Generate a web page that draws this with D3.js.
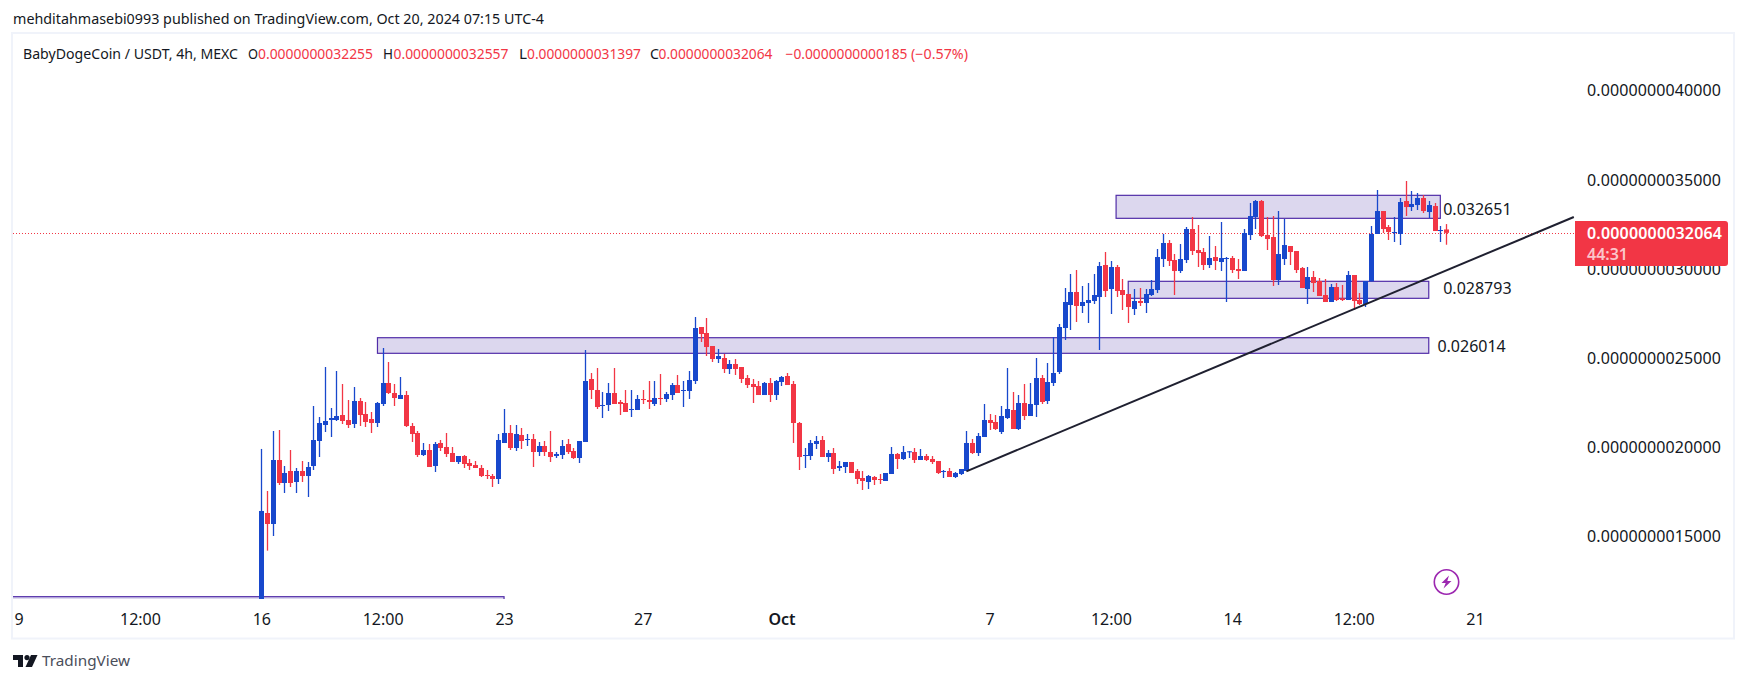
<!DOCTYPE html>
<html>
<head>
<meta charset="utf-8">
<script src="https://cdn.jsdelivr.net/npm/d3@7"></script>
<style>
  body { margin: 0; background: #fff; }
  text { font-family: "Noto Sans", sans-serif; fill: #131722; }
</style>
</head>
<body>
<div id="chart"></div>
<script>
// 4h bars from Sep 16 2024, prices are in units of 1e-13
var opens = [11400,16347,15730,19320,18030,18703,18086,18703,18422,18983,20386,21284,21564,21564,21844,21564,21340,22630,21901,21620,
  21396,22462,23640,23079,22742,22967,21227,20835,19600,19881,18983,20274,20049,19713,19208,19544,19152,19040,18871,18478,
  18422,18254,20274,20835,19993,20723,20442,20498,19769,20105,19769,19544,19600,20218,19825,19432,20330,23864,23247,22350,
  22405,23079,22574,22518,22125,22125,22742,22686,22462,22798,22742,22966,23527,23210,23191,23752,26781,26445,25715,24986,
  25042,24425,24706,24537,23920,23584,23471,22966,23640,22966,23696,24032,23584,21396,19544,19544,20218,20442,19488,19713,
  18871,18927,19208,18703,18310,18086,18366,18254,18142,18535,19657,19376,19750,19769,19320,19544,19376,19264,18646,18703,
  18366,18535,18703,20274,19713,20610,21564,21452,20891,21676,22125,21059,22518,21788,22406,23920,22630,23640,24257,26725,
  28016,28745,27960,28128,28240,28464,30260,28913,30147,28857,28633,27791,28240,28128,28577,28857,30596,31494,30540,29923,
  30540,32279,31101,30989,30260,30708,30428,30596,30652,30035,29923,31942,32952,33850,31942,31830,29418,30596,31325,31045,
  30091,28913,29586,29362,28577,28184,29025,28390,28296,29699,28296,28072,29343,32000,33289,32391,32055,32000,33850,33513,
  33625,34018,33233,33569,32167,32255];
var highs = [19940,17581,20947,21003,18983,19881,18871,19264,19208,22350,21732,24537,22237,24313,23584,22686,23415,22798,22574,22013,
  22574,25603,24818,23584,23976,23191,21396,20947,20274,20218,20330,20442,20835,20049,19544,19600,19376,19264,19040,18759,
  18535,20778,22181,21284,21284,21115,20778,20778,20330,20386,20947,19769,20442,20498,19993,20386,25491,24201,24481,23135,
  23640,24481,22686,23247,23247,22966,23247,23752,23752,24145,23135,23640,24088,23752,24313,27342,26781,27286,25715,25547,
  25267,24930,24986,24537,24088,23864,23752,23696,23920,23808,24032,24201,23752,21452,19993,20442,20666,20666,19881,19993,
  19264,19208,19208,18815,18703,18478,18422,18535,18591,20049,19713,20105,19825,19993,19937,19657,19544,19264,18759,18871,
  18646,18815,20947,20498,20835,22462,21901,21845,22349,24481,23135,22966,23584,23640,25042,24088,24762,26220,26950,28969,
  29755,29979,29081,29250,29755,30428,30989,30484,30260,29474,28633,28913,28969,28913,29418,31157,32009,31662,30877,31438,
  32391,32952,32504,31213,31886,31325,32672,30708,30764,30596,32279,33738,33906,33906,32952,33008,33289,32840,31325,31045,
  30147,30147,29923,29530,29474,29194,29250,29138,29923,29699,28689,29362,32447,34467,33289,32504,32952,34018,34972,34411,
  34299,34186,33850,33738,32447,32557];
var lows = [11400,14234,15056,17917,17469,17805,17469,18086,17244,18759,19488,20891,20610,21508,21340,21115,21115,21227,21171,20835,
  21171,22350,23023,22350,22742,21171,20330,19488,19544,18927,18647,19825,19488,19208,19096,18871,18759,18871,18366,18254,
  17805,17974,20274,19881,19825,19937,20105,18927,19544,19544,19208,19432,19376,19657,19376,19152,20330,22742,22181,21676,
  22069,22462,21844,22013,21732,22125,22462,22181,22349,22406,22574,22686,23079,22293,22742,23584,25940,25154,24818,24762,
  24201,24145,24088,23640,23359,22518,22966,22966,22574,22686,23471,23527,20274,18759,18871,19320,19937,19488,19208,18535,
  18703,18591,18591,17974,17637,17693,17917,17974,18142,18535,18815,19320,19432,19152,19320,19264,19096,18535,18310,18366,
  18310,18478,18703,19657,19544,20610,21003,21003,20779,21620,21059,21003,21564,21788,21732,22462,22462,23471,24145,26052,
  26613,27062,27567,27006,28072,25491,28464,27511,28464,27735,27006,27455,27960,27567,28520,28689,30147,30203,28577,29811,
  30372,30820,30147,29979,30091,29979,29923,28184,29811,29474,29923,31662,32279,31830,31101,29081,29138,30260,30260,29811,
  28969,28072,28745,28520,28184,28184,28240,28240,28296,27735,28016,27903,29343,32000,32055,31662,31550,31381,33008,33289,
  33345,33177,32896,32167,31550,31397];
var closes = [16460,15730,19320,18030,18590,18030,18703,18422,18927,20442,21396,21508,21676,21788,21508,21284,22630,21844,21452,21396,
  22518,23640,23079,22798,22967,21227,20778,19600,19881,18927,20218,19993,19657,19208,19544,19096,18983,18871,18422,18422,
  18254,20442,20835,19993,20778,20386,20498,19769,20105,19769,19488,19657,20105,19769,19432,20386,23752,23247,22293,22405,
  23079,22462,22462,22013,22181,22742,22686,22574,22798,22742,23023,23527,23079,23247,23808,26725,26389,25659,24986,25154,
  24425,24706,24425,23864,23527,23415,22966,23640,22966,23752,23976,23527,21396,19488,19600,20274,20386,19488,19713,18815,
  18983,19208,18591,18254,18142,18422,18198,18198,18591,19657,19376,19769,19806,19320,19544,19320,19208,18591,18703,18366,
  18591,18815,20274,19713,20666,21564,21396,21059,21788,22181,21059,22518,21788,22462,23920,22574,23696,24201,26781,28184,
  28745,27960,28184,28296,28577,30203,28801,30147,28801,28577,27903,28240,28128,28633,28913,30708,31494,30484,29923,30596,
  32279,31045,30933,30260,30652,30484,30652,30652,29979,29923,32055,33008,33850,31886,31718,29418,30876,31381,30989,29979,
  28969,29586,29250,28520,28184,29025,28296,28296,29699,28240,28072,29362,32000,33289,32279,32111,32111,33794,33513,33682,
  34018,33289,33625,32167,32223,32064];

// price axis and time axis labels
var priceTicks = [15000, 20000, 25000, 30000, 35000, 40000];
var timeTicks = [
  [Date.UTC(2024, 8, 9), "9"],
  [Date.UTC(2024, 8, 12, 12), "12:00"],
  [Date.UTC(2024, 8, 16), "16"],
  [Date.UTC(2024, 8, 19, 12), "12:00"],
  [Date.UTC(2024, 8, 23), "23"],
  [Date.UTC(2024, 8, 27), "27"],
  [Date.UTC(2024, 9, 1), "Oct"],
  [Date.UTC(2024, 9, 7), "7"],
  [Date.UTC(2024, 9, 10, 12), "12:00"],
  [Date.UTC(2024, 9, 14), "14"],
  [Date.UTC(2024, 9, 17, 12), "12:00"],
  [Date.UTC(2024, 9, 21), "21"]
];

// rectangles drawn on the chart, in bar numbers and prices
var boxStart = [-60, 20.1, 147.9, 150];
var boxEnd = [42, 202, 204, 202];
var boxTop = [11651, 26181, 34169, 29345];
var boxBottom = [11000, 25306, 32879, 28391];

var levelBars = [204.5, 204.5, 203.5];
var levelPrices = [33401, 28944, 25690];
var levelTexts = ["0.032651", "0.028793", "0.026014"];

var trendBars = [122, 227.1];
var trendPrices = [18686, 32952];

var lastPrice = 32064;

var blue = "#1848cc", red = "#f23645";
var fourHours = 4 * 3600 * 1000, firstBar = Date.UTC(2024, 8, 16);
var barTime = i => firstBar + i * fourHours;

var svg = d3.select("#chart").append("svg")
  .attr("width", 1747)
  .attr("height", 683)
  .style("display", "block");

var x = d3.scaleUtc()
  .domain([firstBar, Date.UTC(2024, 9, 21)])
  .range([261.3, 1475]);
var y = d3.scaleLinear()
  .domain([15000, 40000])
  .range([537, 91.4]);

// outer frame
svg.append("rect")
  .attr("x", 12).attr("y", 33)
  .attr("width", 1722).attr("height", 605.5)
  .attr("fill", "#fff")
  .attr("stroke", "#f0f3fa")
  .attr("stroke-width", 2);

svg.append("clipPath").attr("id", "pane")
  .append("rect")
  .attr("x", 13).attr("y", 34)
  .attr("width", 1562).attr("height", 565);

var pane = svg.append("g").attr("clip-path", "url(#pane)");

// last price line
pane.append("line")
  .attr("x1", 13).attr("x2", 1575)
  .attr("y1", Math.round(y(lastPrice)) + 0.5).attr("y2", Math.round(y(lastPrice)) + 0.5)
  .attr("stroke", red)
  .attr("stroke-dasharray", "1,2");

// rectangles
pane.selectAll("rect.box")
  .data(boxStart)
  .enter()
  .append("rect")
  .attr("class", "box")
  .attr("x", d => x(barTime(d)))
  .attr("y", (d, i) => y(boxTop[i]))
  .attr("width", (d, i) => x(barTime(boxEnd[i])) - x(barTime(d)))
  .attr("height", (d, i) => y(boxBottom[i]) - y(boxTop[i]))
  .attr("fill", "#dcd7ee")
  .attr("stroke", "#512da8")
  .attr("stroke-width", 1.2);

// candles
var candles = pane.selectAll("g.candle")
  .data(opens)
  .enter()
  .append("g")
  .attr("class", "candle")
  .attr("fill", (d, i) => closes[i] >= d ? blue : red)
  .attr("stroke", (d, i) => closes[i] >= d ? blue : red);

candles.append("line")
  .attr("x1", (d, i) => Math.round(x(barTime(i))) + 0.5)
  .attr("x2", (d, i) => Math.round(x(barTime(i))) + 0.5)
  .attr("y1", (d, i) => y(highs[i]))
  .attr("y2", (d, i) => y(lows[i]))
  .attr("stroke-width", 1.3);

candles.append("rect")
  .attr("x", (d, i) => Math.round(x(barTime(i))) - 2)
  .attr("width", 5)
  .attr("y", (d, i) => y(Math.max(d, closes[i])))
  .attr("height", (d, i) => Math.max(1, Math.abs(y(d) - y(closes[i]))))
  .attr("stroke", "none");

// trend line
pane.append("line")
  .attr("x1", x(barTime(trendBars[0]))).attr("y1", y(trendPrices[0]))
  .attr("x2", x(barTime(trendBars[1]))).attr("y2", y(trendPrices[1]))
  .attr("stroke", "#1f2030")
  .attr("stroke-width", 2);

// level labels
svg.selectAll("text.level")
  .data(levelTexts)
  .enter()
  .append("text")
  .attr("class", "level")
  .attr("x", (d, i) => x(barTime(levelBars[i])))
  .attr("y", (d, i) => y(levelPrices[i]))
  .attr("dy", "0.35em")
  .attr("font-size", 16)
  .text(d => d);

// axes
var xAxis = svg.append("g")
  .attr("transform", "translate(0,600)")
  .call(d3.axisBottom(x)
    .tickValues(timeTicks.map(d => d[0]))
    .tickSize(0)
    .tickPadding(10)
    .tickFormat((d, i) => timeTicks[i][1]));
xAxis.select(".domain").remove();
xAxis.selectAll("text")
  .attr("font-size", 16)
  .attr("dy", "0.95em")
  .style("font-family", '"Noto Sans", sans-serif')
  .style("font-weight", (d, i) => timeTicks[i][1] == "Oct" ? "600" : "400");

var yAxis = svg.append("g")
  .attr("transform", "translate(1587,0)")
  .call(d3.axisRight(y)
    .tickValues(priceTicks)
    .tickSize(0)
    .tickPadding(0)
    .tickFormat(d => (d / 1e13).toFixed(13)));
yAxis.select(".domain").remove();
yAxis.selectAll("text")
  .attr("font-size", 16)
  .attr("textLength", 134)
  .attr("dy", "0.28em")
  .style("font-family", '"Noto Sans", sans-serif');

// last price tag
svg.append("path")
  .attr("d", "M1575,221H1725a3,3 0 0 1 3,3V263a3,3 0 0 1 -3,3H1575Z")
  .attr("fill", red);
svg.append("text")
  .attr("x", 1587).attr("y", 239)
  .attr("font-size", 16)
  .attr("font-weight", 600)
  .attr("textLength", 135)
  .style("fill", "#fff")
  .text((lastPrice / 1e13).toFixed(13));
svg.append("text")
  .attr("x", 1587).attr("y", 260)
  .attr("font-size", 16)
  .attr("font-weight", 600)
  .style("fill", "#fbc5ca")
  .text("44:31");

// header and legend
svg.append("text")
  .attr("x", 13).attr("y", 24)
  .attr("font-size", 14)
  .attr("textLength", 531)
  .attr("lengthAdjust", "spacingAndGlyphs")
  .text("mehditahmasebi0993 published on TradingView.com, Oct 20, 2024 07:15 UTC-4");

var legendParts = [
  ["BabyDogeCoin / USDT, 4h, MEXC", 23, 215, "#131722"],
  ["O", 248, 10, "#131722"],
  ["0.0000000032255", 258, 115, red],
  ["H", 383, 10, "#131722"],
  ["0.0000000032557", 393.5, 115, red],
  ["L", 519, 8, "#131722"],
  ["0.0000000031397", 527, 114, red],
  ["C", 650, 9, "#131722"],
  ["0.0000000032064", 658.5, 114, red],
  ["\u22120.0000000000185", 785.5, 122, red],
  ["(\u22120.57%)", 911, 57, red]
];
svg.selectAll("text.legend")
  .data(legendParts)
  .enter()
  .append("text")
  .attr("class", "legend")
  .attr("x", d => d[1])
  .attr("y", 59)
  .attr("font-size", 14)
  .attr("textLength", d => d[2])
  .attr("lengthAdjust", "spacingAndGlyphs")
  .style("fill", d => d[3])
  .text(d => d[0]);

// lightning icon
var icon = svg.append("g").attr("transform", "translate(1446.5,582)");
icon.append("circle")
  .attr("r", 12.2)
  .attr("fill", "#fff")
  .attr("stroke", "#9c27b0")
  .attr("stroke-width", 1.6);
icon.append("path")
  .attr("d", "M2.5,-6.5L-5,1H-0.8L-3,6.5L5,-1H0.8Z")
  .attr("fill", "#9c27b0");

// TradingView logo
var logo = svg.append("g").attr("transform", "translate(13,655)").attr("fill", "#131722");
logo.append("path").attr("d", "M0,0H10V12H5V5H0Z");
logo.append("circle").attr("cx", 14).attr("cy", 2.6).attr("r", 2.6);
logo.append("path").attr("d", "M18,0H24.5L19,12H12.5Z");
svg.append("text")
  .attr("x", 42).attr("y", 666)
  .attr("font-size", 15)
  .attr("textLength", 88)
  .attr("lengthAdjust", "spacingAndGlyphs")
  .style("fill", "#4a4e5a")
  .text("TradingView");
</script>
</body>
</html>
